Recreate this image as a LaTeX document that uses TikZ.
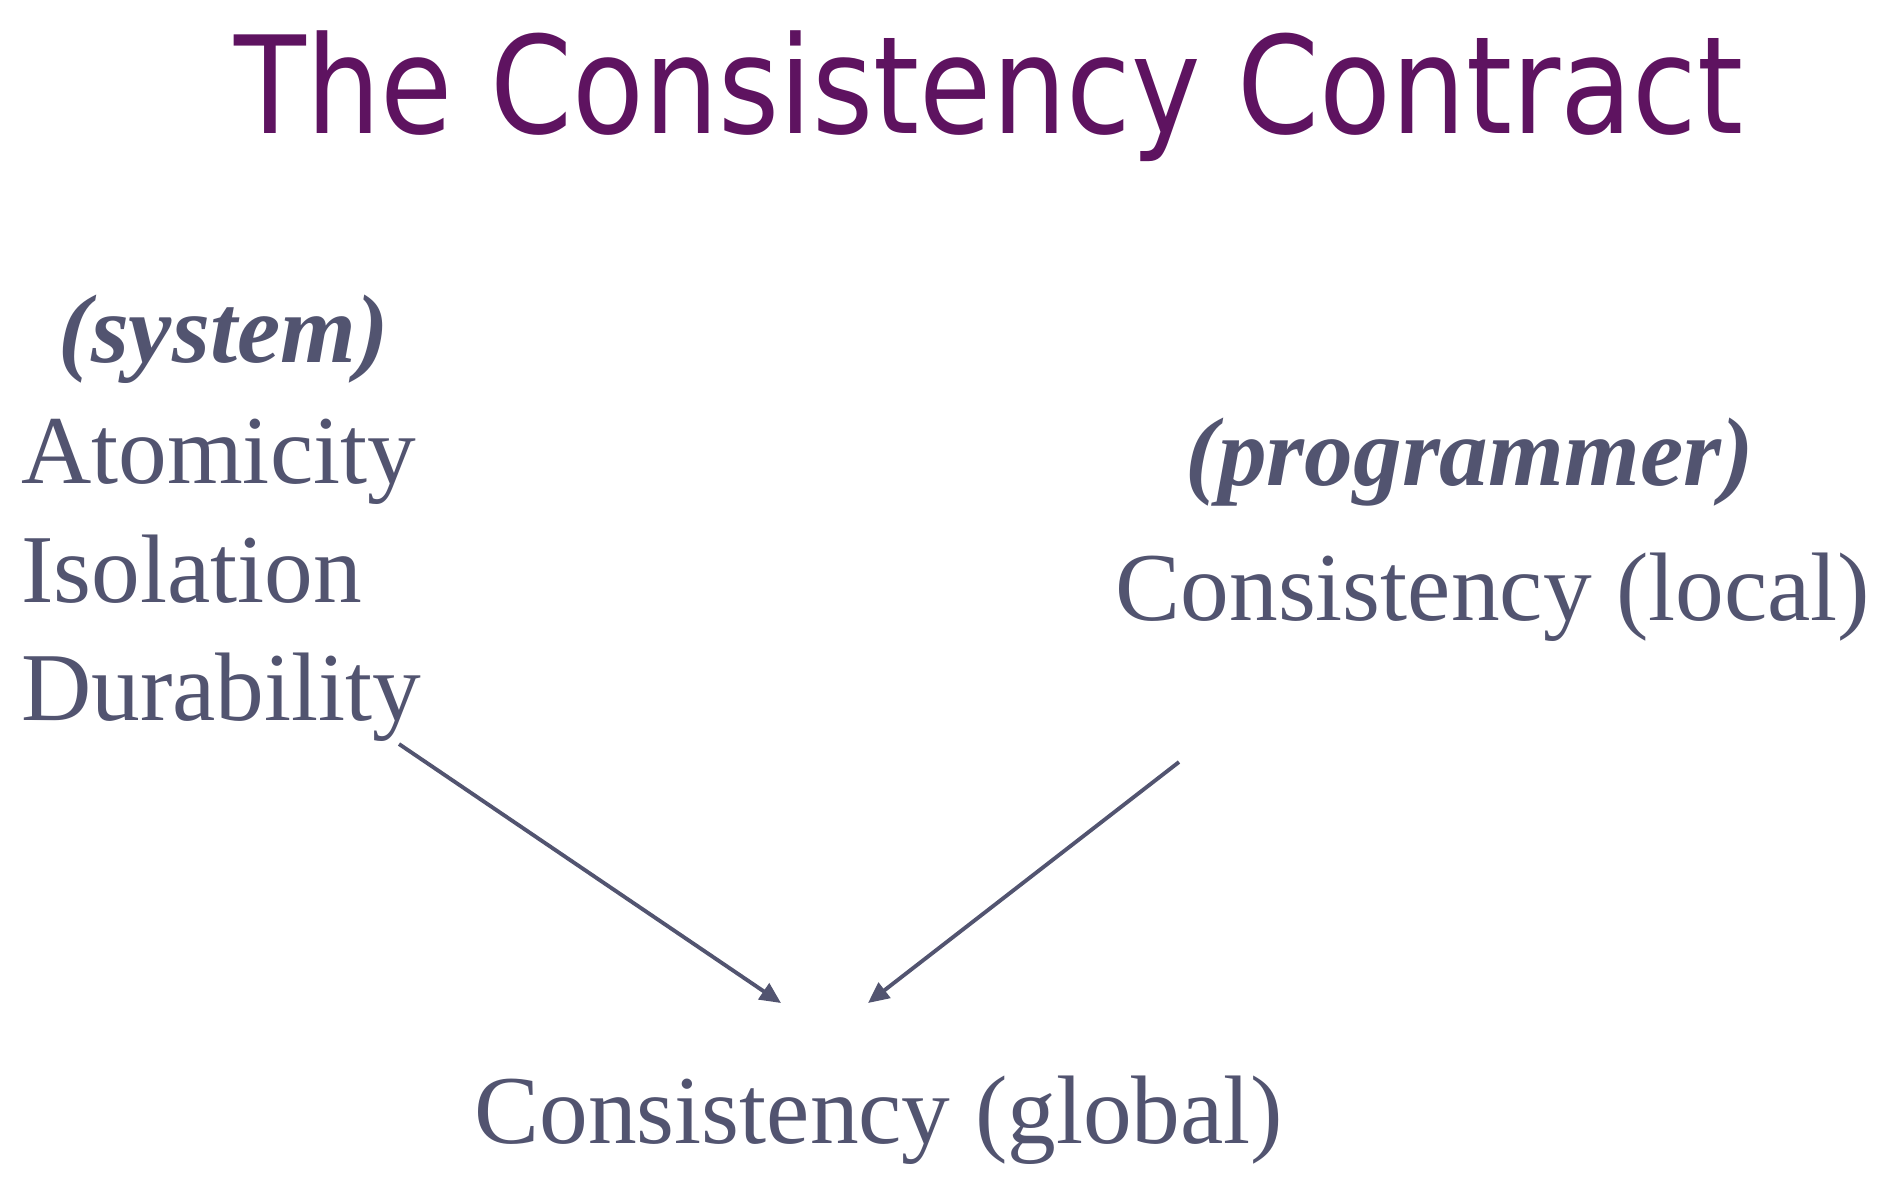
\documentclass[tikz,border=0pt]{standalone}
\usepackage{fontspec}
\setmainfont{Liberation Serif}
\newfontfamily\titlefont{DejaVu Sans}
\usetikzlibrary{arrows.meta}
\definecolor{titlepurple}{RGB}{94,19,96}
\definecolor{slateink}{RGB}{82,84,112}
\tikzset{
  titletext/.style={anchor=base west, inner sep=0pt, text=titlepurple,
    font=\titlefont\fontsize{38.5pt}{46pt}\selectfont},
  bodytext/.style={anchor=base west, inner sep=0pt, text=slateink,
    font=\fontsize{27.7pt}{33pt}\selectfont},
  roletext/.style={bodytext, font=\fontsize{27.7pt}{33pt}\selectfont\bfseries\itshape},
  flow/.style={draw=slateink, line width=1.1pt,
    -{Triangle[length=2.1mm,width=1.9mm]}}
}
\begin{document}
\begin{tikzpicture}[x=1cm,y=1cm]
  % page frame: 1896 x 1188 units of 0.1 mm
  \useasboundingbox[fill=white] (0,0) rectangle (18.96,-11.88);

  % heading
  \node[titletext] (title) at (2.34,-1.33) {\scalebox{0.868}[1]{The Consistency Contract}};

  % system side
  \node[roletext] (system) at (0.58,-3.62) {(system)};
  \node[bodytext] (atom) at (0.205,-4.83) {Atomicity};
  \node[bodytext] (iso) at (0.205,-6.02) {Isolation};
  \node[bodytext] (dur) at (0.205,-7.20) {Durability};

  % programmer side
  \node[roletext] (prog) at (11.85,-4.85) {(programmer)};
  \node[bodytext] (local) at (11.15,-6.20) {Consistency (local)};

  % result
  \node[bodytext] (global) at (4.74,-11.43) {Consistency (global)};

  % connectors
  \coordinate (sysout) at (3.99,-7.44);
  \coordinate (progout) at (11.79,-7.62);
  \coordinate (gin1) at (7.81,-10.03);
  \coordinate (gin2) at (8.68,-10.03);
  \draw[flow] (sysout) -- (gin1);
  \draw[flow] (progout) -- (gin2);
\end{tikzpicture}
\end{document}
